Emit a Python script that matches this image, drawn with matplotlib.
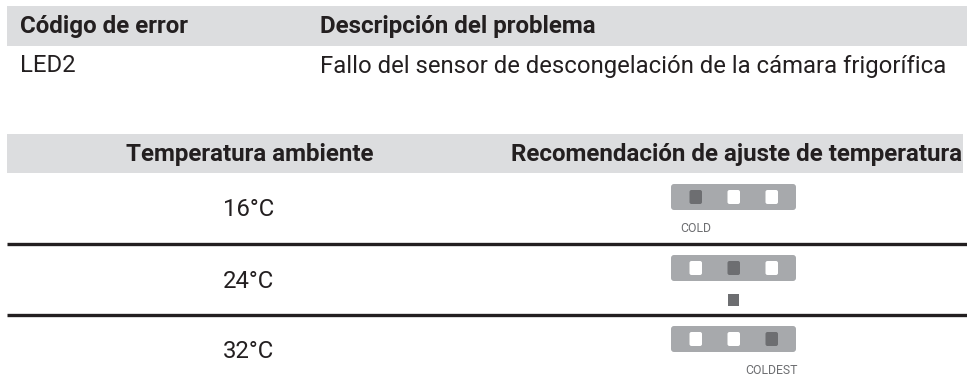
import matplotlib
matplotlib.use("Agg")
import matplotlib.pyplot as plt
from matplotlib.patches import Rectangle, FancyBboxPatch

plt.rcParams['font.family'] = ['Roboto', 'DejaVu Sans']

# table 1: error codes
error_header = ["Código de error", "Descripción del problema"]
error_codes = ["LED2"]
error_descriptions = ["Fallo del sensor de descongelación de la cámara frigorífica"]

# table 2: temperature recommendation
temp_header = ["Temperatura ambiente", "Recomendación de ajuste de temperatura"]
ambient_temps = ["16°C", "24°C", "32°C"]
led_lit = [0, 1, 2]            # which of the three LEDs is lit
led_labels = ["COLD", None, "COLDEST"]   # None -> small square marker

TEXT = '#231f20'
BAND = '#dcdddf'
PANEL = '#a7a9ac'
DARK = '#6d6e71'
FS = 17.2
FS_B = 17.4

fig = plt.figure(figsize=(9.67, 3.78), dpi=100)
ax = fig.add_axes([0, 0, 1, 1])
ax.set_xlim(0, 967)
ax.set_ylim(378, 0)
ax.axis('off')

# ---- table 1 ----
ax.add_patch(Rectangle((7, 6), 960, 40, facecolor=BAND, edgecolor='none'))
ax.text(20, 27, error_header[0], fontsize=FS_B, fontweight='bold', color=TEXT, va='center')
ax.text(320, 27, error_header[1], fontsize=FS_B, fontweight='bold', color=TEXT, va='center')
for i, (code, desc) in enumerate(zip(error_codes, error_descriptions)):
    y = 66 + i * 36
    ax.text(20, y, code, fontsize=FS, color=TEXT, va='center')
    ax.text(320, y, desc, fontsize=FS, color=TEXT, va='center')

# ---- table 2 ----
ax.add_patch(Rectangle((7, 134), 956, 39, facecolor=BAND, edgecolor='none'))
ax.text(250, 154, temp_header[0], fontsize=FS_B, fontweight='bold', color=TEXT,
        va='center', ha='center')
ax.text(962, 154, temp_header[1], fontsize=FS_B, fontweight='bold', color=TEXT,
        va='center', ha='right')

row_h = 71
first_row = 210
panel_cx = 733.5
for i, (temp, lit, lab) in enumerate(zip(ambient_temps, led_lit, led_labels)):
    yc = first_row + i * row_h
    ax.text(249, yc, temp, fontsize=FS, color=TEXT, va='center', ha='center')

    # led panel
    py = yc - 26
    ax.add_patch(FancyBboxPatch((panel_cx - 62.5 + 2, py + 2), 121, 22,
                                boxstyle="round,pad=2,rounding_size=3",
                                facecolor=PANEL, edgecolor='none'))
    for k in range(3):
        sx = panel_cx - 38 + k * 38
        col = DARK if k == lit else 'white'
        ax.add_patch(FancyBboxPatch((sx - 6 + 1.5, py + 6 + 1.5), 9.5, 11,
                                    boxstyle="round,pad=1.5,rounding_size=2",
                                    facecolor=col, edgecolor='none'))
    if lab is None:
        ax.add_patch(Rectangle((panel_cx - 5.5, py + 39), 11, 12,
                               facecolor=DARK, edgecolor='none'))
    else:
        lx = panel_cx - 38 + lit * 38
        ax.text(lx, py + 45, lab, fontsize=8.8, color=DARK, va='center', ha='center')

    # separator line below row
    if i < len(ambient_temps) - 1:
        ax.plot([7, 967], [yc + 34, yc + 34], color='#231f20', lw=2.4,
                solid_capstyle='butt')

fig.savefig('out.png', dpi=100)
